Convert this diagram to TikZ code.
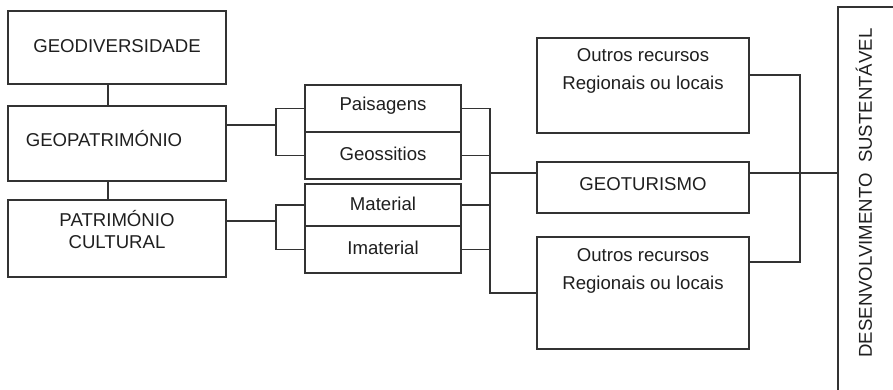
\documentclass[tikz,border=0pt]{standalone}
\usepackage{fontspec}
\setmainfont{Liberation Sans}
\usetikzlibrary{calc}
\begin{document}
\begin{tikzpicture}[x=0.5pt,y=-0.5pt,
  every node/.style={text=black!88},
  box/.style={draw=black!80, line width=0.9pt, rectangle, anchor=north west,
    inner sep=0pt, outer sep=0pt},
  lbl/.style={font=\fontsize{9.3}{14}\selectfont, align=center, inner sep=0pt},
  link/.style={draw=black!80, line width=0.9pt}]
\useasboundingbox (0,0) rectangle (893,390);
\fill[white] (0,0) rectangle (893,390);
\clip (0,0) rectangle (893,390);

% left column
\node[box, minimum width=109pt, minimum height=36.5pt] (geodiv) at (8,11) {};
\node[lbl] (tgeodiv) at (117,46) {GEODIVERSIDADE};
\node[box, minimum width=109pt, minimum height=37.5pt] (geopat) at (8,106) {};
\node[lbl] (tgeopat) at (104,139) {GEOPATRIMÓNIO};
\node[box, minimum width=109pt, minimum height=38.5pt] (patcult) at (8,200) {};
\node[lbl, font=\fontsize{9.3}{11}\selectfont] (tpatcult) at (117,230) {PATRIMÓNIO\\CULTURAL};

% middle column
\node[box, minimum width=78pt, minimum height=23.5pt] (paisagens) at (305,85) {};
\node[lbl] (tpais) at (383,106) {Paisagens};
\node[box, minimum width=78pt, minimum height=23.5pt] (geoss) at (305,132) {};
\node[lbl] (tgeoss) at (383,154) {Geossitios};
\node[box, minimum width=78pt, minimum height=21pt] (material) at (305,184) {};
\node[lbl] (tmat) at (383,204) {Material};
\node[box, minimum width=78pt, minimum height=23.5pt] (imaterial) at (305,226) {};
\node[lbl] (timat) at (383,248) {Imaterial};

% resources column
\node[box, minimum width=106pt, minimum height=47.5pt] (outros1) at (537,38) {};
\node[lbl] (toutros1) at (643,71) {Outros recursos\\Regionais ou locais};
\node[box, minimum width=106pt, minimum height=25.5pt] (geotur) at (537,162) {};
\node[lbl] (tgeotur) at (643,184) {GEOTURISMO};
\node[box, minimum width=106pt, minimum height=56pt] (outros2) at (537,237) {};
\node[lbl] (toutros2) at (643,271) {Outros recursos\\Regionais ou locais};

% sustainable development band
\node[box, minimum width=40pt, minimum height=200pt] (desenv) at (838,7) {};
\node[lbl, rotate=90] (tdesenv) at (864,193) {DESENVOLVIMENTO\ \ SUSTENTÁVEL};

% junction points
\coordinate (v1) at ($(geodiv.south west)!0.46!(geodiv.south east)$);
\coordinate (v2) at ($(geopat.south west)!0.46!(geopat.south east)$);
\coordinate (b1) at (276,125);
\coordinate (b2) at (276,221);
\coordinate (jl) at (490,173);
\coordinate (jr) at (800,173);
\coordinate (o1) at ($(outros1.north east)!0.39!(outros1.south east)$);
\coordinate (o2) at ($(outros2.north east)!0.223!(outros2.south east)$);

% vertical chain on the left
\draw[link] (v1) -- (v1 |- geopat.north);
\draw[link] (v2) -- (v2 |- patcult.north);

% brackets into the middle column
\draw[link] (geopat.east |- b1) -- (b1);
\draw[link] (paisagens.west) -- (paisagens.west -| b1) -- (geoss.west -| b1) -- (geoss.west);
\draw[link] (patcult.east |- b2) -- (b2);
\draw[link] (material.west) -- (material.west -| b2) -- (imaterial.west -| b2) -- (imaterial.west);

% collector towards the resources column
\draw[link] (paisagens.east) -- (paisagens.east -| jl);
\draw[link] (geoss.east) -- (geoss.east -| jl);
\draw[link] (material.east) -- (material.east -| jl);
\draw[link] (imaterial.east) -- (imaterial.east -| jl);
\draw[link] (jl |- paisagens.east) -- (jl |- outros2.west) -- (outros2.west);
\draw[link] (jl) -- (geotur.west |- jl);

% collector towards sustainable development
\draw[link] (o1) -| (o2 -| jr) -- (o2);
\draw[link] (geotur.east |- jr) -- (desenv.west |- jr);
\end{tikzpicture}
\end{document}
